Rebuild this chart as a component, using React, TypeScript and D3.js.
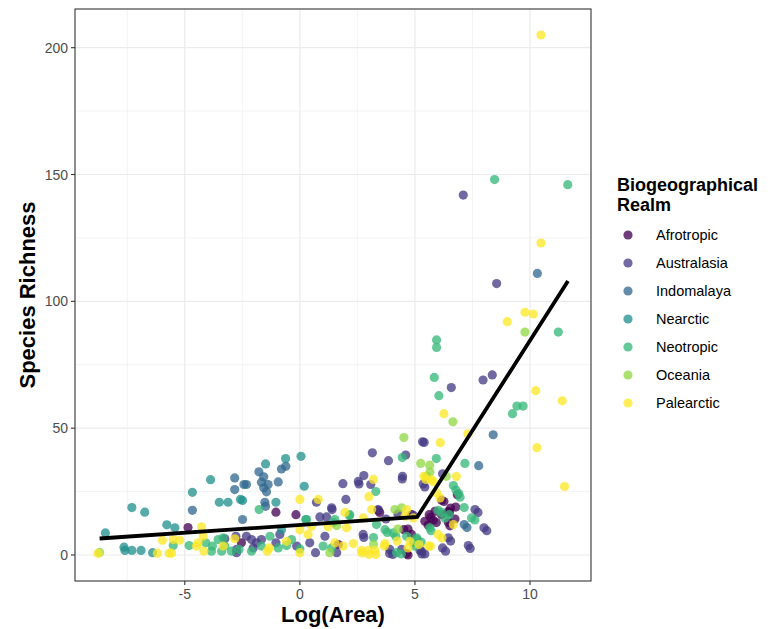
import React from 'react';
import * as d3 from 'd3';

// realm names and colours (viridis, 7 levels)
const realms = ['Afrotropic', 'Australasia', 'Indomalaya', 'Nearctic', 'Neotropic', 'Oceania', 'Palearctic'];
const realmColors = ['#440154', '#443A83', '#31688E', '#21908C', '#35B779', '#8FD744', '#FDE725'];

// [log(area), species richness]
const afrotropic: [number, number][] = [
  [-4.86, 10.8], [-1.04, 16.9], [-0.17, 15.9], [-2.54, 4.8], [1.67, 4.1], [3.4, 17.6], [3.47, 16.8],
  [4.86, 15.9], [4.52, 10.0], [4.64, 0.6], [4.7, 10.2], [4.85, 8.1], [4.7, 0.0], [6.26, 21.1],
  [6.55, 18.5], [6.77, 18.9], [6.5, 16.8], [5.68, 14.8], [5.93, 12.8], [5.57, 11.8], [6.52, 11.5],
  [6.16, 21.6], [6.84, 23.8], [6.45, 17.2], [5.87, 17.2], [6.16, 15.9], [5.43, 13.3], [5.8, 13.7],
  [5.62, 15.9], [6.45, 12.9], [6.74, 14.2],
];
const australasia: [number, number][] = [
  [7.1, 141.9], [8.55, 107], [8.36, 71], [7.96, 69], [6.58, 66], [5.4, 44.4], [5.33, 44.6],
  [3.15, 40.3], [3.85, 37.2], [4.6, 39.4], [1.87, 28.1], [2.57, 28.0], [2.78, 31.3], [3.08, 27.8],
  [2.54, 29.0], [2.0, 21.9], [0.72, 20.8], [1.38, 18.6], [4.45, 30.0], [5.43, 26.8], [4.46, 31.0],
  [5.36, 28.0], [6.2, 32.0], [1.4, 17.9], [3.4, 17.9], [0.87, 15.0], [1.16, 15.0], [2.75, 8.1],
  [1.09, 7.4], [0.43, 4.8], [0.68, 0.9], [1.6, 0.9], [3.91, 2.2], [4.42, 2.2], [3.9, 0.6],
  [4.04, 0.2], [2.78, 6.9], [3.74, 14.2], [4.26, 16.2], [4.93, 15.6], [5.22, 1.8], [5.29, 1.5],
  [5.3, 0.4], [5.43, 0.4], [6.55, 5.5], [7.4, 2.6], [6.33, 1.5], [7.74, 16.8], [8.12, 9.6],
  [7.61, 17.9], [8.0, 10.7], [6.45, 6.8], [6.2, 2.8], [7.32, 3.7], [-3.26, 6.4], [-2.78, 7.4],
  [-2.75, 2.2], [-2.32, 7.4], [-2.1, 6.1], [-1.88, 4.8], [-1.67, 6.1], [-2.75, 0.9], [-2.03, 2.8],
  [-1.04, 4.8], [-0.87, 8.1], [-0.14, 3.5],
];
const indomalaya: [number, number][] = [
  [10.32, 111], [8.4, 47.4], [7.77, 35.2], [7.26, 10.8], [7.14, 12.0], [-4.67, 17.6], [-2.83, 30.4],
  [-2.43, 27.8], [-2.32, 27.8], [-2.83, 25.8], [-1.78, 32.8], [-1.57, 30.8], [-1.67, 28.7],
  [-1.38, 27.8], [-1.57, 26.5], [-1.45, 24.9], [-0.94, 28.8], [-0.8, 33.9], [-0.61, 35.0],
  [-1.52, 20.8], [-1.49, 19.2], [-2.49, 14.0],
];
const nearctic: [number, number][] = [
  [-8.45, 8.7], [-7.3, 18.7], [-6.74, 16.9], [-7.64, 3.1], [-7.6, 1.8], [-7.3, 1.8], [-6.9, 1.8],
  [-6.4, 0.9], [-5.78, 11.9], [-5.43, 10.7], [-4.67, 24.7], [-3.88, 29.7], [-3.5, 20.8], [-3.12, 20.8],
  [-2.58, 21.9], [-2.49, 21.5], [-1.49, 35.9], [-0.62, 38.0], [-1.04, 20.8], [0.05, 38.9],
  [0.19, 27.1], [0.26, 14.0], [-0.8, 10.0],
];
const neotropic: [number, number][] = [
  [8.46, 148], [11.64, 146], [11.23, 87.9], [5.94, 84.8], [5.94, 81.8], [5.84, 70.0], [6.04, 62.8],
  [9.24, 55.7], [9.43, 58.7], [9.7, 58.7], [4.45, 38.4], [5.93, 38.0], [7.17, 36.1], [3.3, 25.0],
  [6.67, 27.4], [6.78, 25.6], [6.9, 24.2], [6.96, 22.8], [7.14, 18.7], [7.6, 13.8], [6.15, 16.8],
  [5.7, 9.6], [5.1, 6.1], [5.0, 3.5], [5.27, 5.1], [4.41, 0.4], [6.01, 17.6], [6.3, 14.6],
  [6.49, 15.9], [5.65, 10.7], [7.46, 14.6], [4.64, 7.4], [5.07, 6.8], [4.93, 4.8], [3.2, 6.9],
  [3.8, 8.9], [4.17, 7.3], [2.15, 15.6], [1.45, 12.8], [0.29, 14.0], [1.52, 14.0], [2.17, 15.9],
  [3.33, 12.0], [3.7, 10.0], [4.06, 8.7], [1.01, 3.5], [1.38, 2.8], [0, 2.4], [4.2, 0.9],
  [-1.77, 17.9], [-5.5, 3.7], [-4.81, 3.7], [-4.09, 4.8], [-3.8, 3.5], [-3.55, 6.1], [-3.33, 6.8],
  [-3.26, 3.5], [-3.84, 1.5], [-3.4, 1.5], [-2.97, 1.5], [-2.64, 2.2], [-2.1, 1.5], [-1.67, 3.5],
  [-1.3, 7.4], [-0.94, 2.8], [-0.58, 3.7], [-0.36, 6.1],
];
const oceania: [number, number][] = [
  [9.78, 87.9], [6.65, 52.5], [4.52, 46.3], [5.25, 36.1], [5.64, 35.4], [5.65, 32.7], [5.51, 31.0],
  [6.36, 31.0], [1.6, 11.6], [4.13, 17.9], [4.42, 18.6], [3.2, 4.1], [4.26, 10.2], [1.3, 0.9],
  [-8.7, 1.0],
];
const palearctic: [number, number][] = [
  [10.48, 205], [10.48, 123], [9.78, 95.7], [10.14, 95.0], [9.01, 92.0], [10.25, 64.8], [11.4, 60.8],
  [10.3, 42.3], [11.5, 27.0], [6.26, 55.7], [7.3, 47.8], [6.1, 44.3], [3.2, 29.8], [5.48, 29.8],
  [5.8, 28.9], [6.8, 30.9], [5.39, 31.0], [5.72, 29.7], [5.94, 24.5], [6.09, 22.5], [3.0, 23.0],
  [1.96, 16.8], [6.17, 6.7], [5.6, 3.5], [6.01, 8.1], [6.67, 12.0], [4.64, 17.9], [4.57, 15.3],
  [4.93, 14.6], [4.78, 5.4], [2.7, 0.8], [3.0, 0.2], [3.3, 0.2], [3.67, 3.5], [4.23, 5.5], [4.7, 2.8],
  [5.17, 4.1], [5.67, 3.5], [0, 21.9], [0.8, 21.9], [0.51, 11.3], [1.23, 11.1], [2.03, 10.7],
  [2.75, 14.6], [3.12, 17.9], [0.36, 8.1], [2.32, 4.5], [1.52, 4.8], [1.88, 3.5], [2.68, 1.8],
  [2.97, 1.8], [3.26, 1.8], [3.7, 4.5], [0, 0.9], [0, 10.0], [-8.77, 0.6], [-6.19, 0.7], [-5.68, 0.7],
  [-5.58, 0.7], [-5.97, 5.8], [-5.5, 6.1], [-5.22, 5.8], [-4.27, 11.1], [-4.2, 7.4], [-4.49, 3.5],
  [-4.17, 1.5], [-3.33, 3.5], [-2.83, 6.4], [-1.42, 1.5], [-1.33, 2.8], [-0.58, 5.4], [-4.42, 4.8],
];
const realmData = [afrotropic, australasia, indomalaya, nearctic, neotropic, oceania, palearctic];

// segmented regression fit
const fitX = [-8.7, 5.1, 11.65];
const fitY = [6.5, 15, 108];

const xTicks = [-5, 0, 5, 10];
const xMinor = [-7.5, -2.5, 2.5, 7.5];
const yTicks = [0, 50, 100, 150, 200];
const yMinor = [25, 75, 125, 175];

const W = 784;
const H = 629;
const panel = { left: 75, right: 591, top: 9, bottom: 581 };

const App = () => {
  const x = d3.scaleLinear().domain([-9.77, 12.65]).range([panel.left, panel.right]);
  const y = d3.scaleLinear().domain([-10.25, 215.25]).range([panel.bottom, panel.top]);
  const line = d3.line<number>().x((d) => x(d)).y((d, i) => y(fitY[i]));

  const font = 'Liberation Sans, Arial, Helvetica, sans-serif';

  return (
    <svg width={W} height={H} style={{ position: 'absolute', left: 0, top: 0, fontFamily: font }}>
      <rect x={0} y={0} width={W} height={H} fill="#fff" />
      {/* grid */}
      {xMinor.map((t) => (
        <line key={'xm' + t} x1={x(t)} x2={x(t)} y1={panel.top} y2={panel.bottom} stroke="#EBEBEB" strokeWidth={0.6} />
      ))}
      {yMinor.map((t) => (
        <line key={'ym' + t} x1={panel.left} x2={panel.right} y1={y(t)} y2={y(t)} stroke="#EBEBEB" strokeWidth={0.6} />
      ))}
      {xTicks.map((t) => (
        <line key={'xg' + t} x1={x(t)} x2={x(t)} y1={panel.top} y2={panel.bottom} stroke="#EBEBEB" strokeWidth={1.2} />
      ))}
      {yTicks.map((t) => (
        <line key={'yg' + t} x1={panel.left} x2={panel.right} y1={y(t)} y2={y(t)} stroke="#EBEBEB" strokeWidth={1.2} />
      ))}

      {/* points */}
      {realmData.map((pts, i) =>
        pts.map((p, j) => (
          <circle key={i + '-' + j} cx={x(p[0])} cy={y(p[1])} r={4.6} fill={realmColors[i]} fillOpacity={0.76} />
        ))
      )}

      {/* fitted line */}
      <path d={line(fitX) || ''} fill="none" stroke="#000" strokeWidth={3.8} strokeLinejoin="miter" />

      {/* panel border */}
      <rect x={panel.left} y={panel.top} width={panel.right - panel.left} height={panel.bottom - panel.top}
        fill="none" stroke="#333" strokeWidth={1.1} />

      {/* x axis */}
      {xTicks.map((t) => (
        <g key={'xt' + t}>
          <line x1={x(t)} x2={x(t)} y1={panel.bottom} y2={panel.bottom + 4} stroke="#333" strokeWidth={1.1} />
          <text x={x(t)} y={panel.bottom + 18} textAnchor="middle" fontSize={14} fill="#4D4D4D">{t}</text>
        </g>
      ))}
      {/* y axis */}
      {yTicks.map((t) => (
        <g key={'yt' + t}>
          <line x1={panel.left - 4} x2={panel.left} y1={y(t)} y2={y(t)} stroke="#333" strokeWidth={1.1} />
          <text x={panel.left - 7} y={y(t) + 5} textAnchor="end" fontSize={14} fill="#4D4D4D">{t}</text>
        </g>
      ))}

      <text x={(panel.left + panel.right) / 2} y={622} textAnchor="middle" fontSize={22} fontWeight="bold" fill="#000">
        Log(Area)
      </text>
      <text transform={`translate(35,${(panel.top + panel.bottom) / 2}) rotate(-90)`} textAnchor="middle"
        fontSize={22} fontWeight="bold" fill="#000">
        Species Richness
      </text>

      {/* legend */}
      <text x={617} y={191} fontSize={18} fontWeight="bold" fill="#000">Biogeographical</text>
      <text x={617} y={211} fontSize={18} fontWeight="bold" fill="#000">Realm</text>
      {realms.map((r, i) => (
        <g key={r} transform={`translate(0,${235 + i * 28})`}>
          <circle cx={628} cy={0} r={4.6} fill={realmColors[i]} fillOpacity={0.76} />
          <text x={656} y={5} fontSize={14.5} fill="#000">{r}</text>
        </g>
      ))}
    </svg>
  );
};

export default App;
